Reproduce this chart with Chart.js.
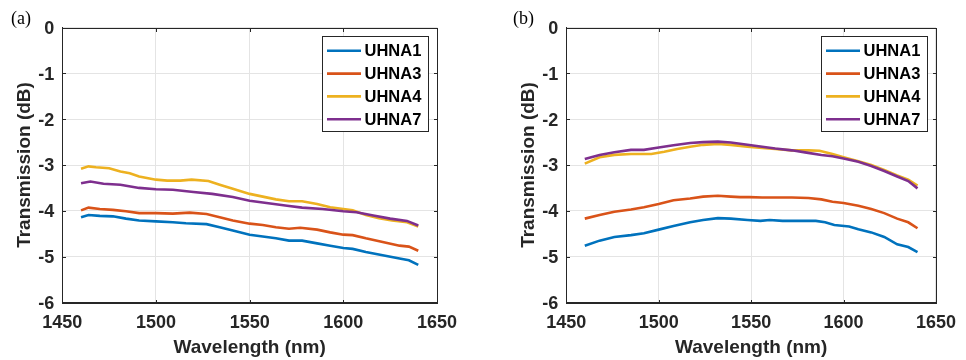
<!DOCTYPE html>
<html><head><meta charset="utf-8">
<script src="https://cdn.jsdelivr.net/npm/chart.js@4"></script>
<style>
html,body{margin:0;padding:0;background:#fff;}
#wrap{position:relative;width:966px;height:360px;overflow:hidden;background:#fff}
.panel{position:absolute;top:0;width:483px;height:360px}
canvas{display:block}
</style></head><body>
<div id="wrap">
<div class="panel" style="left:0"><canvas id="ca" width="483" height="360"></canvas></div>
<div class="panel" style="left:483px"><canvas id="cb" width="483" height="360"></canvas></div>
</div>
<script>
// ---- data ----
const seriesNames = ['UHNA1', 'UHNA3', 'UHNA4', 'UHNA7'];
const seriesColors = ['#0072BD', '#D95319', '#EDB120', '#7E2F8E'];
const xTickLabels = [1450, 1500, 1550, 1600, 1650];
const yTickLabels = [0, -1, -2, -3, -4, -5, -6];
const xTitle = 'Wavelength (nm)';
const yTitle = 'Transmission (dB)';

// panel (a)
const wlA1 = [1460,1464,1470,1477,1484,1491,1500,1509,1516,1527,1534,1541,1550,1557,1564,1571,1578,1586,1593,1600,1605,1612,1621,1630,1635,1640];
const tA1  = [-4.14,-4.09,-4.11,-4.12,-4.17,-4.21,-4.23,-4.25,-4.27,-4.29,-4.36,-4.43,-4.52,-4.56,-4.60,-4.65,-4.65,-4.71,-4.76,-4.81,-4.83,-4.90,-4.97,-5.04,-5.08,-5.18];
const wlA3 = [1460,1464,1470,1477,1484,1491,1500,1509,1518,1527,1534,1541,1550,1557,1564,1571,1577,1586,1593,1600,1605,1612,1621,1630,1635,1640];
const tA3  = [-3.99,-3.93,-3.96,-3.98,-4.01,-4.05,-4.05,-4.06,-4.04,-4.07,-4.14,-4.21,-4.28,-4.31,-4.36,-4.39,-4.37,-4.41,-4.47,-4.52,-4.53,-4.60,-4.68,-4.76,-4.78,-4.87];
const wlA4 = [1460,1464,1468,1475,1481,1486,1491,1500,1506,1513,1519,1528,1534,1541,1550,1557,1564,1571,1578,1586,1593,1600,1605,1612,1619,1626,1634,1640];
const tA4  = [-3.08,-3.03,-3.05,-3.07,-3.14,-3.18,-3.25,-3.32,-3.34,-3.34,-3.32,-3.35,-3.43,-3.52,-3.63,-3.69,-3.75,-3.79,-3.79,-3.85,-3.92,-3.96,-3.99,-4.09,-4.16,-4.21,-4.25,-4.34];
const wlA7 = [1460,1465,1472,1481,1491,1500,1509,1520,1530,1541,1550,1559,1570,1578,1589,1600,1607,1616,1625,1634,1640];
const tA7  = [-3.40,-3.36,-3.41,-3.43,-3.50,-3.53,-3.54,-3.59,-3.63,-3.70,-3.78,-3.83,-3.89,-3.93,-3.96,-4.01,-4.03,-4.10,-4.17,-4.22,-4.32];

// panel (b)
const wlB1 = [1460,1468,1476,1485,1492,1500,1508,1517,1524,1532,1539,1548,1555,1560,1567,1576,1585,1590,1595,1603,1608,1615,1622,1629,1635,1640];
const tB1  = [-4.76,-4.65,-4.57,-4.53,-4.49,-4.41,-4.33,-4.25,-4.20,-4.16,-4.17,-4.20,-4.22,-4.20,-4.22,-4.22,-4.22,-4.25,-4.31,-4.34,-4.40,-4.47,-4.57,-4.73,-4.79,-4.90];
const wlB3 = [1460,1468,1476,1485,1492,1500,1508,1517,1524,1532,1539,1544,1549,1556,1563,1572,1581,1588,1594,1600,1608,1615,1622,1629,1635,1640];
const tB3  = [-4.17,-4.09,-4.02,-3.97,-3.92,-3.85,-3.77,-3.73,-3.69,-3.67,-3.69,-3.70,-3.70,-3.71,-3.71,-3.71,-3.72,-3.75,-3.80,-3.83,-3.89,-3.96,-4.05,-4.17,-4.25,-4.38];
const wlB4 = [1460,1468,1476,1485,1496,1503,1510,1517,1524,1532,1539,1548,1556,1563,1572,1581,1587,1594,1600,1608,1615,1622,1629,1635,1640];
const tB4  = [-2.97,-2.83,-2.78,-2.76,-2.76,-2.71,-2.65,-2.60,-2.56,-2.54,-2.56,-2.60,-2.63,-2.65,-2.68,-2.68,-2.69,-2.76,-2.83,-2.92,-3.00,-3.11,-3.23,-3.32,-3.45];
const wlB7 = [1460,1468,1476,1485,1492,1500,1508,1517,1524,1532,1539,1548,1556,1563,1572,1580,1588,1594,1600,1608,1615,1622,1629,1635,1640];
const tB7  = [-2.87,-2.78,-2.72,-2.67,-2.67,-2.62,-2.57,-2.52,-2.50,-2.49,-2.51,-2.56,-2.60,-2.64,-2.68,-2.73,-2.78,-2.81,-2.86,-2.93,-3.02,-3.13,-3.25,-3.35,-3.51];

// ---- helpers ----
const FONT = '"Liberation Sans", Arial, Helvetica, sans-serif';
const TXT = '#262626';

function pts(xs, ys) { return xs.map((x, i) => ({ x: x, y: ys[i] })); }

function makeDatasets(pairs) {
  return pairs.map((p, i) => ({
    label: seriesNames[i],
    data: pts(p[0], p[1]),
    borderColor: seriesColors[i],
    backgroundColor: seriesColors[i],
    borderWidth: 2.6,
    pointRadius: 0,
    tension: 0,
    fill: false,
    order: pairs.length - i
  }));
}

const decorPlugin = {
  id: 'decor',
  afterDraw(chart, args, opts) {
    const ctx = chart.ctx;
    const a = chart.chartArea;
    const L = Math.round(a.left) + 0.5, R = Math.round(a.right) + 0.5;
    const T = Math.round(a.top) + 0.5, B = Math.round(a.bottom) + 0.5;
    ctx.save();
    // box
    ctx.strokeStyle = '#262626';
    ctx.lineWidth = 1;
    ctx.strokeRect(L, T, R - L, B - T);
    // inner tick marks
    const xs = chart.scales.x, ys = chart.scales.y;
    ctx.beginPath();
    xs.ticks.forEach(t => {
      const px = Math.round(xs.getPixelForValue(t.value)) + 0.5;
      ctx.moveTo(px, B); ctx.lineTo(px, B - 3.5);
      ctx.moveTo(px, T); ctx.lineTo(px, T + 3.5);
    });
    ys.ticks.forEach(t => {
      const py = Math.round(ys.getPixelForValue(t.value)) + 0.5;
      ctx.moveTo(L, py); ctx.lineTo(L + 3.5, py);
      ctx.moveTo(R, py); ctx.lineTo(R - 3.5, py);
    });
    ctx.stroke();
    // legend
    const bw = 106, bh = 95;
    const bx = Math.round(a.right - 115) + 0.5, by = Math.round(a.top + 8.5) + 0.5;
    ctx.fillStyle = '#ffffff';
    ctx.fillRect(bx, by, bw, bh);
    ctx.strokeStyle = '#262626';
    ctx.lineWidth = 1;
    ctx.strokeRect(bx, by, bw, bh);
    ctx.font = 'bold 16.5px ' + FONT;
    ctx.textBaseline = 'middle';
    ctx.textAlign = 'left';
    chart.data.datasets.forEach((ds, i) => {
      const yy = by + 14.3 + i * 22.8;
      ctx.strokeStyle = ds.borderColor;
      ctx.lineWidth = 2.6;
      ctx.beginPath();
      ctx.moveTo(bx + 4.5, yy); ctx.lineTo(bx + 38.5, yy);
      ctx.stroke();
      ctx.fillStyle = '#000';
      ctx.fillText(ds.label, bx + 42, yy + 1);
    });
    // panel label
    ctx.font = '18px "Liberation Serif", "Times New Roman", serif';
    ctx.fillStyle = '#000';
    ctx.textBaseline = 'alphabetic';
    ctx.fillText(opts.label, opts.lx, 24);
    ctx.restore();
  }
};

function makePanel(id, label, lx, pairs, yW, padR, yTitlePad) {
  return new Chart(document.getElementById(id), {
    type: 'line',
    data: { datasets: makeDatasets(pairs) },
    plugins: [decorPlugin],
    options: {
      responsive: false,
      animation: false,
      devicePixelRatio: 1,
      layout: { padding: { left: 0, right: padR, top: 27.5, bottom: 0 } },
      plugins: {
        legend: { display: false },
        tooltip: { enabled: false },
        decor: { label: label, lx: lx }
      },
      scales: {
        x: {
          type: 'linear',
          min: xTickLabels[0],
          max: xTickLabels[xTickLabels.length - 1],
          afterBuildTicks: s => { s.ticks = xTickLabels.map(v => ({ value: v })); },
          afterFit: s => { s.height = 57.5; },
          ticks: {
            color: TXT, padding: 10, maxRotation: 0,
            font: { family: FONT, size: 18, weight: 'bold' },
            callback: v => String(v)
          },
          grid: { color: '#e4e4e4', lineWidth: 1, drawTicks: false },
          border: { display: true, color: '#262626', width: 1 },
          title: {
            display: true, text: xTitle, color: TXT,
            font: { family: FONT, size: 19, weight: 'bold' },
            padding: { top: 0, bottom: 1.3 }
          }
        },
        y: {
          type: 'linear',
          min: yTickLabels[yTickLabels.length - 1],
          max: yTickLabels[0],
          afterBuildTicks: s => { s.ticks = yTickLabels.slice().reverse().map(v => ({ value: v })); },
          afterFit: s => { s.width = yW; },
          ticks: {
            color: TXT, padding: 8, labelOffset: 1.5,
            font: { family: FONT, size: 18, weight: 'bold' },
            callback: v => String(v)
          },
          grid: { color: '#e4e4e4', lineWidth: 1, drawTicks: false },
          border: { display: true, color: '#262626', width: 1 },
          title: {
            display: true, text: yTitle, color: TXT,
            font: { family: FONT, size: 19, weight: 'bold' },
            padding: { top: yTitlePad, bottom: 0 }
          }
        }
      }
    }
  });
}

makePanel('ca', '(a)', 11, [[wlA1, tA1], [wlA3, tA3], [wlA4, tA4], [wlA7, tA7]], 62.3, 46, 13.1);
makePanel('cb', '(b)', 30, [[wlB1, tB1], [wlB3, tB3], [wlB4, tB4], [wlB7, tB7]], 83.3, 24.3, 34.1);
</script>
</body></html>
